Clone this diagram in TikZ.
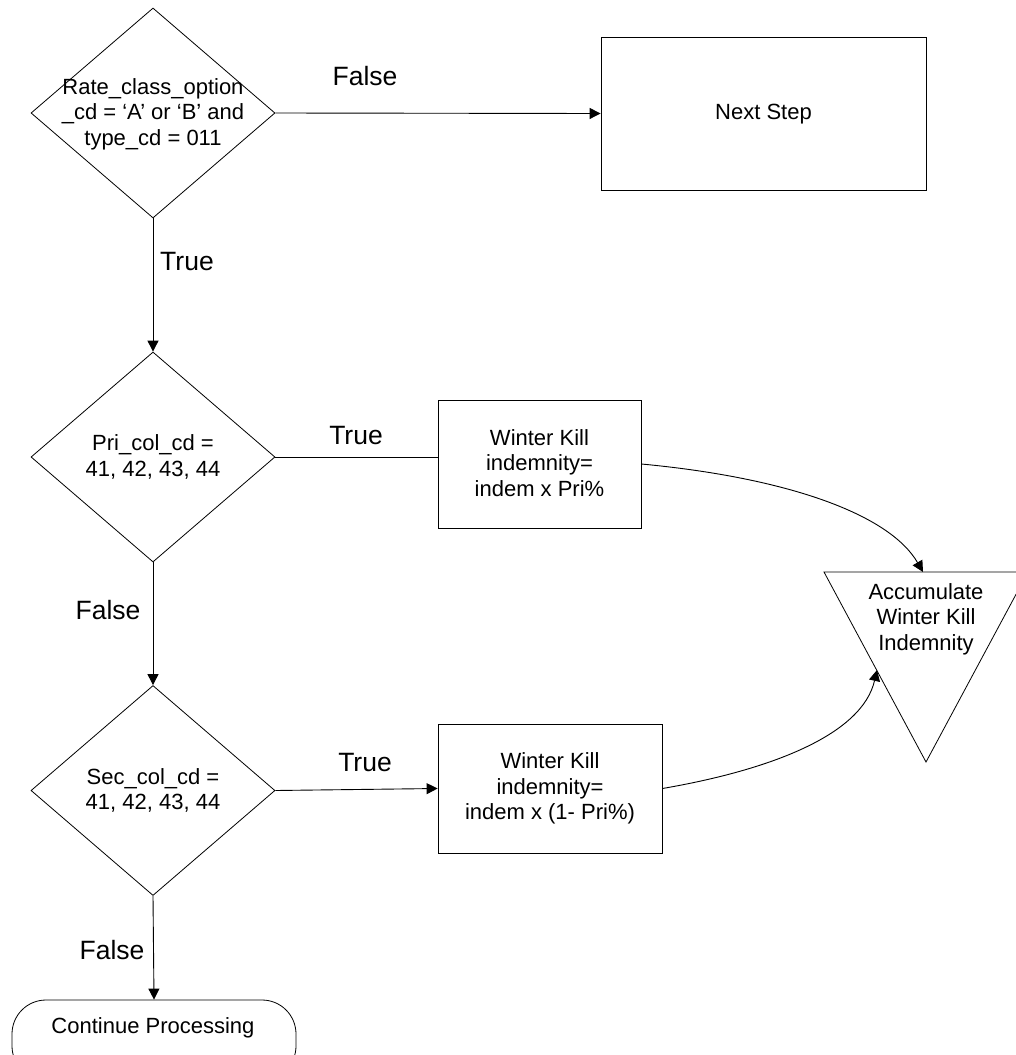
\documentclass[tikz,border=0pt]{standalone}
\usepackage{fontspec}
\setmainfont{Liberation Sans}
\usetikzlibrary{shapes.geometric,arrows.meta}
\begin{document}
\begin{tikzpicture}[x=1pt,y=-1pt,
  line/.style={draw=black, line width=0.9pt},
  arr/.style={line, -{Triangle[length=11pt,width=11pt]}},
  dia/.style={draw, diamond, minimum width=244pt, minimum height=210pt, inner sep=0pt, line width=0.8pt},
  box/.style={draw, rectangle, inner sep=0pt, line width=0.8pt},
  txt/.style={font=\fontsize{22}{25.5}\selectfont, align=center, inner sep=0pt},
  lbl/.style={font=\fontsize{26.5}{30}\selectfont, inner sep=0pt}]
\useasboundingbox (0,0) rectangle (1015,1055);

% decisions
\node[dia] (d1) at (153,113) {};
\node[txt] (d1t) at (153,114) {Rate\_class\_option\\\_cd = ‘A’ or ‘B’ and\\type\_cd = 011};
\node[dia] (d2) at (153,457) {};
\node[txt] (d2t) at (153,457) {Pri\_col\_cd =\\41, 42, 43, 44};
\node[dia] (d3) at (153,790.5) {};
\node[txt] (d3t) at (153,790.5) {Sec\_col\_cd =\\41, 42, 43, 44};

% boxes
\node[box, minimum width=325pt, minimum height=153pt] (next) at (763.5,113.5) {};
\node[txt] (nextt) at (763.5,114) {Next Step};
\node[box, minimum width=203pt, minimum height=128pt] (wk1) at (539.5,464) {};
\node[txt] (wk1t) at (539.5,463) {Winter Kill\\indemnity=\\indem x Pri\%};
\node[box, minimum width=224pt, minimum height=129pt] (wk2) at (550,788.5) {};
\node[txt] (wk2t) at (550,788.5) {Winter Kill\\indemnity=\\indem x (1- Pri\%)};

% terminator
\node[draw, rectangle, rounded corners=34pt, line width=0.8pt, minimum width=284pt, minimum height=80pt, inner sep=0pt] (cont) at (154,1040) {};
\node[txt] (contt) at (153,1028) {Continue Processing};

% accumulate triangle
\coordinate (tl) at (824,572);
\coordinate (tr) at (1028,572);
\coordinate (tb) at (926,762);
\draw[line width=0.8pt] (tl) -- (tr) -- (tb) -- cycle;
\node[txt] (acct) at (926,619) {Accumulate\\Winter Kill\\Indemnity};
\coordinate (acctop) at (923,572);
\coordinate (accleft) at (877,670);

% connectors
\draw[arr] (d1.east) -- (next.west);
\draw[arr] (d1.south) -- (d2.north);
\draw[line] (d2.east) -- (d2.east -| wk1.west);
\draw[arr] (d2.south) -- (d3.north);
\draw[arr] (d3.east) -- (wk2.west);
\draw[arr] (d3.south) -- (cont.north);
\draw[arr] (wk1.east) .. controls (790,478) and (890,515) .. (acctop);
\draw[arr] (wk2.east) .. controls (770,770) and (862,735) .. (accleft);

% labels
\node[lbl] (lf1) at (365,76) {False};
\node[lbl] (lt1) at (187,262) {True};
\node[lbl] (lt2) at (356,436) {True};
\node[lbl] (lf2) at (108,610) {False};
\node[lbl] (lt3) at (365,763) {True};
\node[lbl] (lf3) at (112,950) {False};
\end{tikzpicture}
\end{document}
